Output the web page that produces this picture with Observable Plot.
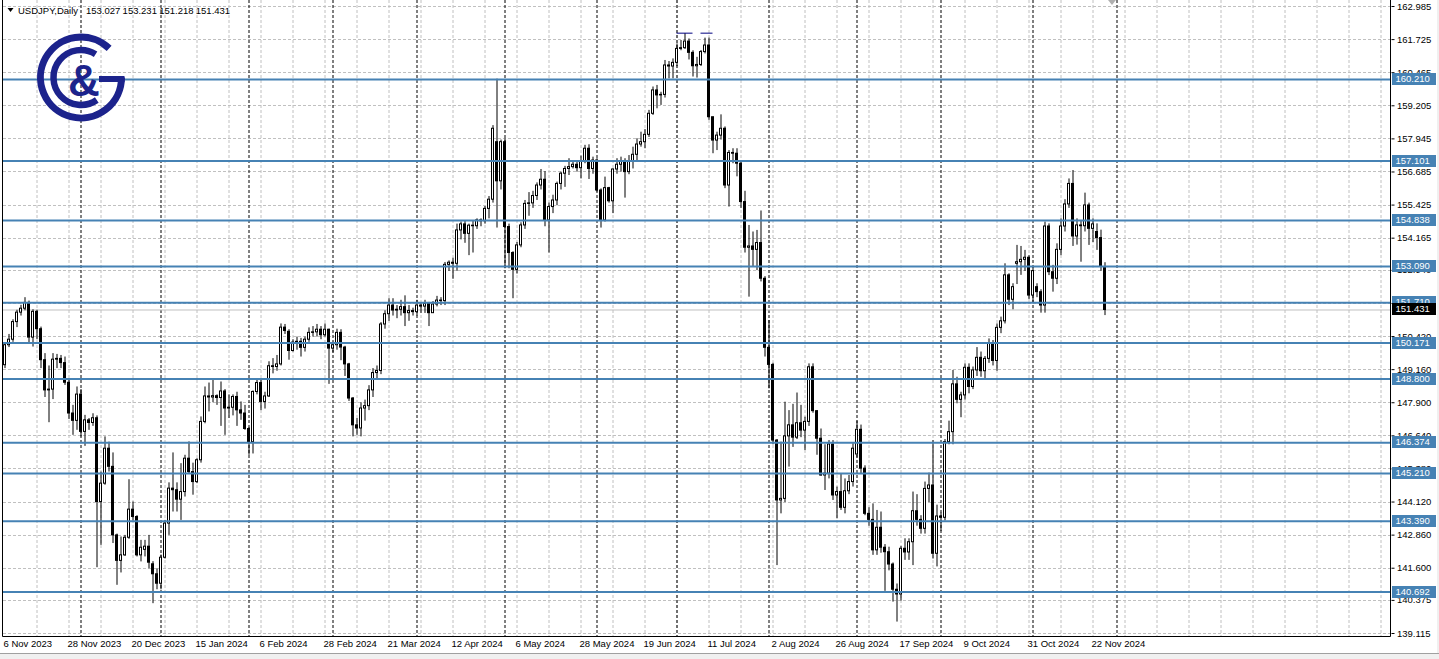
<!DOCTYPE html>
<html><head><meta charset="utf-8">
<script src="https://cdn.jsdelivr.net/npm/d3@7"></script>
<script src="https://cdn.jsdelivr.net/npm/@observablehq/plot@0.6"></script>
<style>
html,body{margin:0;padding:0;background:#fff;overflow:hidden}
#chart{position:relative;width:1439px;height:659px}
</style></head><body><div id="chart"></div>
<script>
const symbol = "USDJPY,Daily";
const lastBar = ["153.027", "153.231", "151.218", "151.431"];

const openP = [149.33,150.09,150.30,150.97,151.33,151.48,151.70,150.38,151.36,150.70,
149.52,148.37,148.40,149.54,149.57,149.41,148.66,147.49,147.21,148.21,
146.79,147.23,147.13,147.31,144.12,144.82,146.15,145.46,142.85,141.88,
142.09,142.76,143.83,143.55,142.09,142.30,142.42,141.75,141.37,141.01,
142.00,143.30,144.63,144.57,144.21,144.50,145.77,145.26,144.88,145.71,
147.17,148.14,148.10,148.15,148.08,148.33,147.68,147.71,148.12,147.61,
147.49,146.90,146.40,148.31,148.65,147.93,148.14,149.29,149.26,149.36,
150.76,150.60,149.87,150.19,150.22,149.99,150.30,150.56,150.58,150.68,
150.47,150.68,149.96,150.09,150.56,150.00,149.36,148.06,147.04,146.92,
147.68,147.77,148.37,149.03,149.11,150.88,151.27,151.60,151.41,151.44,
151.54,151.31,151.39,151.35,151.60,151.56,151.66,151.31,151.64,151.79,
151.77,153.15,153.23,153.19,154.46,154.69,154.33,154.64,154.62,154.84,
154.81,155.28,155.63,157.82,156.33,157.82,154.59,153.60,152.96,153.89,
154.65,155.47,155.49,155.77,156.17,156.39,154.84,155.35,155.60,156.23,
156.62,156.80,156.87,156.96,156.83,157.09,157.57,156.80,157.12,155.98,
154.84,156.07,155.57,156.78,156.96,157.08,156.68,157.08,157.34,157.73,
157.82,158.10,158.90,159.79,159.60,159.62,160.74,160.70,160.84,161.37,
161.40,161.65,161.22,160.71,160.76,161.25,161.50,158.77,157.88,158.07,
158.33,156.17,157.41,157.38,157.00,155.54,153.80,153.85,153.72,153.98,
152.62,149.99,149.34,146.46,144.18,144.24,146.62,147.04,146.57,147.12,
146.84,147.17,149.25,147.58,146.53,145.13,145.20,146.31,144.37,144.50,
143.90,144.53,144.88,145.93,146.87,145.39,143.67,143.44,142.28,143.14,
142.38,142.21,141.74,140.78,140.60,142.34,142.20,142.59,143.77,143.44,
143.10,144.62,144.75,142.15,143.57,143.52,146.40,146.78,148.60,148.01,
148.18,149.23,148.50,149.13,149.61,149.10,149.57,150.14,149.49,150.75,
151.00,152.75,151.82,153.19,153.25,153.34,153.42,151.98,152.30,152.11,
151.60,154.61,152.87,152.62,153.72,154.61,155.45,156.23,154.23,154.65,
154.62,155.41,154.52,154.40,154.17,153.027];

const highP = [150.16,150.50,151.06,151.42,151.61,151.90,151.77,151.44,151.42,150.78,
149.77,149.30,149.77,149.74,149.70,149.64,148.82,147.80,148.50,148.40,
147.42,147.30,147.48,147.40,145.26,146.60,146.40,145.99,142.90,142.79,
142.85,144.97,144.12,143.60,142.66,142.66,142.85,141.85,141.58,142.10,
143.42,144.85,145.99,144.85,145.58,145.90,146.41,145.60,145.77,147.36,
148.50,148.65,148.80,148.20,148.69,148.40,148.20,148.20,148.30,147.93,
147.80,146.95,148.35,148.80,148.75,148.30,149.46,149.58,149.70,150.90,
150.88,150.68,150.30,150.40,150.35,150.40,150.75,150.80,150.88,150.80,
150.90,150.70,150.20,150.70,150.68,150.05,149.40,148.10,147.30,147.90,
148.00,148.55,149.20,149.30,150.95,151.40,151.86,151.86,151.60,151.80,
151.97,151.60,151.50,151.80,151.70,151.80,151.72,151.75,151.95,151.90,
153.24,153.30,153.40,154.70,154.78,154.80,154.70,154.80,154.90,154.90,
155.37,155.75,158.45,160.22,157.90,157.95,154.70,153.65,154.00,154.75,
155.60,155.90,155.95,156.27,156.78,156.70,155.50,155.80,156.30,156.68,
156.90,157.19,157.10,157.06,157.29,157.70,157.72,157.25,157.19,156.04,
156.49,156.10,156.80,157.19,157.25,157.19,157.31,157.63,157.95,158.20,
158.30,159.03,159.92,159.98,159.72,160.93,160.89,160.99,161.56,161.69,
161.95,161.75,161.30,161.05,161.31,161.78,161.78,158.77,158.20,158.86,
158.40,157.50,157.57,157.57,157.12,155.95,154.65,154.40,154.46,155.20,
152.70,151.03,149.40,146.50,146.40,147.92,147.60,147.84,148.27,147.80,
147.35,149.38,149.38,147.60,146.90,146.30,146.46,146.46,144.69,145.20,
145.00,145.13,146.34,147.20,147.05,145.50,143.90,144.05,143.80,143.74,
142.50,142.40,141.80,141.00,142.43,142.72,142.72,144.50,144.40,143.60,
144.88,145.22,146.46,144.00,143.70,146.50,147.20,149.13,148.87,148.30,
149.38,149.38,149.26,150.00,149.83,149.66,150.33,150.27,150.90,151.16,
153.19,152.81,152.43,153.89,153.85,153.70,153.50,153.06,152.43,152.20,
154.78,154.71,153.13,153.95,154.90,155.63,156.42,156.74,154.90,154.84,
155.88,155.50,154.90,154.71,154.47,153.231];

const lowP = [149.20,150.00,150.20,150.76,151.20,151.40,150.15,150.02,150.30,149.20,
148.10,147.14,148.02,149.20,149.20,148.56,147.26,146.66,146.85,146.60,
146.24,146.85,147.00,141.62,142.47,144.76,145.26,142.54,140.95,141.42,
142.05,142.70,143.40,142.03,141.84,142.03,141.58,140.25,140.78,140.78,
141.95,142.85,143.74,143.74,143.42,144.31,145.20,144.38,144.82,145.60,
147.10,147.55,147.90,147.80,147.00,146.66,147.30,147.40,147.00,147.23,
146.85,145.90,145.95,148.20,147.60,147.66,148.10,149.00,149.10,149.30,
150.50,149.52,149.83,149.90,149.64,149.83,150.20,150.40,150.40,150.30,
150.40,148.60,149.80,149.90,149.50,148.90,147.95,146.60,146.66,146.60,
147.20,147.60,148.10,148.80,148.97,150.70,151.00,151.20,151.10,151.20,
150.80,151.00,151.20,151.20,151.30,151.30,150.80,151.30,151.55,151.60,
151.60,152.90,152.60,152.90,154.10,153.97,153.50,153.60,154.50,154.60,
154.70,154.90,155.50,154.55,156.00,153.00,153.00,151.86,152.80,153.80,
154.50,155.00,155.30,155.60,156.00,154.60,153.60,155.10,155.40,156.00,
156.10,156.55,156.80,156.68,156.42,157.00,156.40,156.60,155.92,154.55,
154.78,155.50,155.10,156.60,156.68,155.69,156.58,156.80,157.12,157.63,
157.57,158.00,158.84,159.09,159.22,159.50,160.23,160.23,160.70,161.30,
161.35,160.95,160.30,160.26,160.70,161.18,158.65,157.38,157.50,157.90,
156.05,155.35,157.00,156.50,155.30,153.60,151.92,153.06,152.93,152.50,
149.64,148.43,146.30,141.70,143.67,144.10,145.45,146.20,146.50,146.57,
146.08,147.00,147.50,145.90,145.10,144.56,145.00,144.18,143.48,143.80,
143.67,144.40,144.69,145.80,145.20,143.60,143.20,142.09,142.09,142.17,
140.72,141.50,140.31,139.55,140.35,141.90,141.90,141.70,143.20,142.90,
142.90,144.10,141.95,141.65,143.00,143.40,146.30,146.30,147.86,147.33,
148.00,148.24,148.40,148.90,148.87,148.81,149.40,149.30,149.10,150.53,
150.90,151.60,151.44,152.40,152.75,152.90,151.82,151.70,151.90,151.31,
151.31,152.74,152.11,152.40,153.50,154.40,155.30,153.85,153.90,153.25,
154.40,153.89,154.00,153.70,152.90,151.218];

const closeP = [150.09,150.30,150.97,151.33,151.48,151.70,150.38,151.36,150.70,149.52,
148.37,148.40,149.54,149.57,149.41,148.66,147.49,147.21,148.21,146.79,
147.23,147.13,147.31,144.12,144.82,146.15,145.46,142.85,141.88,142.09,
142.76,143.83,143.55,142.09,142.38,142.42,141.81,141.37,141.01,142.00,
143.30,144.63,144.57,144.21,144.50,145.77,145.26,144.88,145.71,147.17,
148.14,148.10,148.15,148.08,148.33,147.68,147.71,148.12,147.61,147.49,
146.90,146.40,148.31,148.65,147.93,148.14,149.29,149.26,149.36,150.76,
150.63,149.87,150.19,150.22,149.99,150.30,150.56,150.58,150.68,150.47,
150.68,149.96,150.09,150.56,150.00,149.36,148.06,147.04,146.92,147.68,
147.77,148.37,149.03,149.11,150.88,151.27,151.60,151.41,151.44,151.54,
151.31,151.39,151.35,151.60,151.56,151.66,151.31,151.64,151.79,151.77,
153.15,153.23,153.19,154.46,154.69,154.33,154.64,154.62,154.84,154.81,
155.28,155.63,158.33,156.33,157.82,154.59,153.60,152.96,153.89,154.65,
155.47,155.49,155.77,156.17,156.39,154.84,155.35,155.60,156.23,156.62,
156.80,156.87,156.96,156.83,157.09,157.57,156.80,157.12,155.98,154.84,
156.07,155.57,156.78,156.96,157.08,156.68,157.08,157.34,157.73,157.82,
158.10,158.90,159.79,159.60,159.62,160.74,160.70,160.84,161.37,161.40,
161.65,161.22,160.71,160.76,161.25,161.50,158.77,157.88,158.07,158.33,
156.17,157.41,157.38,157.00,155.54,153.80,153.85,153.72,153.98,152.62,
149.99,149.34,146.46,144.18,144.24,146.62,147.04,146.57,147.12,146.84,
147.17,149.25,147.58,146.53,145.13,145.20,146.31,144.37,144.50,143.90,
144.53,144.88,146.15,146.87,145.39,143.67,143.44,142.28,143.14,142.38,
142.21,141.74,140.78,140.60,142.34,142.20,142.59,143.77,143.44,143.10,
144.62,144.75,142.15,143.57,143.52,146.40,146.78,148.60,148.01,148.18,
149.23,148.50,149.13,149.61,149.10,149.57,150.14,149.49,150.75,151.00,
152.75,151.82,152.30,153.25,153.34,153.42,151.98,152.91,152.11,151.60,
154.61,152.87,152.62,153.72,154.61,155.45,156.23,154.23,154.65,154.62,
155.41,154.52,154.69,154.17,153.09,151.431];

const levels = [160.210, 157.101, 154.838, 153.090, 151.710, 150.171, 148.800, 146.374, 145.210, 143.390, 140.692];
const lastPrice = 151.431;
const yTicks = [162.985, 161.725, 160.465, 159.205, 157.945, 156.685, 155.425, 154.165, 152.940, 151.680,
                150.420, 149.160, 147.900, 146.640, 145.380, 144.120, 142.860, 141.600, 140.375, 139.115];
const dateLabels = ["6 Nov 2023","28 Nov 2023","20 Dec 2023","15 Jan 2024","6 Feb 2024","28 Feb 2024",
  "21 Mar 2024","12 Apr 2024","6 May 2024","28 May 2024","19 Jun 2024","11 Jul 2024","2 Aug 2024",
  "26 Aug 2024","17 Sep 2024","9 Oct 2024","31 Oct 2024","22 Nov 2024"];
const labelStep = 16;          // bars between date labels
const gridStep = 8;            // bars between vertical grid lines
const monthStarts = [19, 39, 61, 82, 103, 125, 148, 168, 191, 213, 234, 257, 278]; // first bar of each month
const topMarks = [[168, 172], [174, 177]];  // short navy marks at the double top
const topMarkPrice = 161.97;

const bars = openP.map((o, i) => {
  const c = closeP[i];
  return {i, o, c, h: Math.max(highP[i], o, c), l: Math.min(lowP[i], o, c), up: c >= o};
});
const upBars = bars.filter(d => d.up);
const gridX = d3.range(gridStep, 346, gridStep);
const labelsX = dateLabels.map((t, k) => ({i: k * labelStep, t}));

const FONT = "'Liberation Sans', Arial, sans-serif";

const chart = Plot.plot({
  width: 1439, height: 659,
  marginLeft: 2.5, marginRight: 48.5, marginTop: 0, marginBottom: 22.5,
  x: {type: "linear", domain: [-1, 346.5], range: [0.5, 1390.5], axis: null},
  y: {type: "linear", domain: [139.115, 162.985], range: [633, 6]},
  style: {fontFamily: FONT, fontSize: "9.5px", background: "#fff", overflow: "visible"},
  marks: [
    Plot.ruleY(yTicks, {stroke: "#c0c0c0", strokeDasharray: "3,2", strokeWidth: 1, shapeRendering: "crispEdges"}),
    Plot.ruleX(gridX, {stroke: "#c0c0c0", strokeDasharray: "3,2", strokeWidth: 1}),
    Plot.ruleX(monthStarts, {stroke: "#000", strokeDasharray: "3,2", strokeWidth: 1}),
    Plot.ruleY([lastPrice], {stroke: "#c0c0c0", strokeWidth: 1}),
    Plot.ruleX(bars, {x: "i", y1: "l", y2: "h", stroke: "#000", strokeWidth: 1}),
    Plot.rect(bars, {x1: d => d.i - 0.375, x2: d => d.i + 0.375, y1: "o", y2: "c", fill: "#000",
                     insetTop: -0.5, insetBottom: -0.5}),
    Plot.rect(upBars, {x1: d => d.i - 0.125, x2: d => d.i + 0.125, y1: "o", y2: "c", fill: "#fff",
                       insetTop: 0.5, insetBottom: 0.5}),
    Plot.ruleY(levels, {stroke: "#4682b4", strokeWidth: 2}),
    Plot.ruleY(topMarks, {y: () => topMarkPrice, x1: d => d[0], x2: d => d[1], stroke: "#000080", strokeWidth: 1}),
    Plot.axisY(yTicks, {anchor: "right", tickSize: 3, tickPadding: 3, label: null,
                        tickFormat: d => d.toFixed(3), fontSize: 9.5}),
    Plot.text(labelsX, {x: "i", text: "t", frameAnchor: "bottom", textAnchor: "start",
                        dx: -1.5, dy: 10, fontSize: 9.5, fill: "#000"})
  ]
});

document.getElementById("chart").appendChild(chart);

// frame, tags, header and logo drawn on top of the Plot SVG using its scales
const svg = d3.select(chart);
const ys = chart.scale("y");
const deco = svg.append("g").attr("font-family", FONT).attr("font-size", 9.5).attr("text-anchor", "start");

// window border strips
deco.append("rect").attr("x", 0).attr("y", 653).attr("width", 1439).attr("height", 6).attr("fill", "#f0f0f0");
deco.append("line").attr("x1", 0).attr("x2", 1439).attr("y1", 653.5).attr("y2", 653.5).attr("stroke", "#a0a0a0");
deco.append("rect").attr("x", 1437).attr("y", 0).attr("width", 2).attr("height", 653).attr("fill", "#f0f0f0");

// chart frame
deco.append("line").attr("x1", 2.5).attr("x2", 2.5).attr("y1", 0).attr("y2", 636.5).attr("stroke", "#000");
deco.append("line").attr("x1", 1390.5).attr("x2", 1390.5).attr("y1", 0).attr("y2", 636.5).attr("stroke", "#000");
deco.append("line").attr("x1", 2.5).attr("x2", 1390.5).attr("y1", 636.5).attr("y2", 636.5).attr("stroke", "#000");

// shift marker
deco.append("path").attr("d", "M1108,0 L1116,0 L1112,5 Z").attr("fill", "#b0b0b0");

// price tags
function tag(v, fill) {
  const y = Math.round(ys.apply(v));
  deco.append("rect").attr("x", 1392).attr("y", y - 6).attr("width", 44).attr("height", 12).attr("fill", fill);
  deco.append("text").attr("x", 1395.5).attr("y", y).attr("dy", "0.36em").attr("text-anchor", "start")
    .attr("fill", "#fff").text(v.toFixed(3));
}
levels.forEach(v => tag(v, "#4682b4"));
tag(lastPrice, "#000");

// header
deco.append("path").attr("d", "M7.5,8 L13.5,8 L10.5,12 Z").attr("fill", "#000");
const hdr = deco.append("text").attr("y", 10.5).attr("dy", "0.35em").attr("font-size", 9.5)
  .attr("text-anchor", "start").attr("fill", "#000");
hdr.append("tspan").attr("x", 18).text(symbol);
lastBar.forEach((t, k) => hdr.append("tspan").attr("x", 86 + k * 36.6).text(t));

// logo
const navy = "#1c238c";
const cx = 81, cy = 77.5;
const pt = (r, a) => [cx + r * Math.cos(a * Math.PI / 180), cy + r * Math.sin(a * Math.PI / 180)];
const ro = 40.5, [sx, sy] = pt(ro, -46), [ex, ey] = pt(ro, 0);
deco.append("path").attr("d", `M${sx},${sy} A${ro},${ro} 0 1 0 ${ex},${ey}`)
  .attr("fill", "none").attr("stroke", navy).attr("stroke-width", 7);
deco.append("line").attr("x1", 99).attr("x2", 124.5).attr("y1", 79).attr("y2", 79)
  .attr("stroke", navy).attr("stroke-width", 6);
const ri = 27.5, [s2x, s2y] = pt(ri, -58), [e2x, e2y] = pt(ri, 55);
deco.append("path").attr("d", `M${s2x},${s2y} A${ri},${ri} 0 1 0 ${e2x},${e2y}`)
  .attr("fill", "none").attr("stroke", navy).attr("stroke-width", 6.5);
deco.append("text").attr("x", 84).attr("y", 96).attr("text-anchor", "middle")
  .attr("font-size", 44).attr("font-weight", "bold").attr("fill", navy).text("&");
</script>
</body></html>
